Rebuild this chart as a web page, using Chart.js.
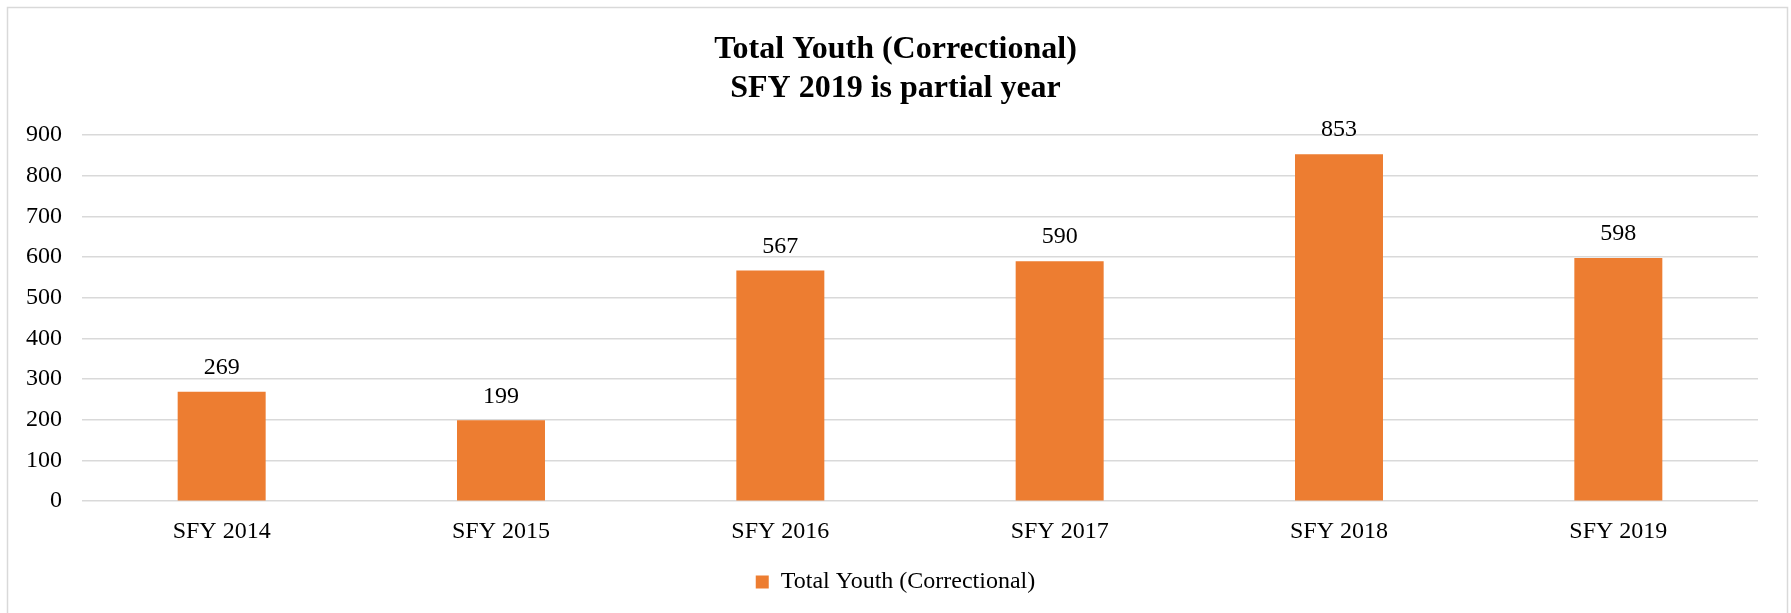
<!DOCTYPE html>
<html>
<head>
<meta charset="utf-8">
<script src="https://cdn.jsdelivr.net/npm/chart.js@4/dist/chart.umd.min.js"></script>
<style>
  html, body { margin: 0; padding: 0; background: #fff; }
  #wrap { width: 1791px; height: 613px; }
</style>
</head>
<body>
<div id="wrap"><canvas id="grafico" width="1791" height="613"></canvas></div>
<script>
// dados do gráfico
const categorias = ['SFY 2014', 'SFY 2015', 'SFY 2016', 'SFY 2017', 'SFY 2018', 'SFY 2019'];
const totalJovens = [269, 199, 567, 590, 853, 598];
const tituloLinhas = ['Total Youth (Correctional)', 'SFY 2019 is partial year'];
const nomeSerie = 'Total Youth (Correctional)';

const fonte = '"Liberation Serif", "Times New Roman", serif';

// moldura cinza em volta do gráfico
const moldura = {
  id: 'moldura',
  beforeDraw(chart) {
    const ctx = chart.ctx;
    ctx.save();
    ctx.fillStyle = '#fff';
    ctx.fillRect(0, 0, chart.width, chart.height);
    ctx.strokeStyle = '#d9d9d9';
    ctx.lineWidth = 1.5;
    ctx.strokeRect(7.5, 7.5, 1780, 640);
    ctx.restore();
  }
};

// rótulos de valor acima das barras
const rotulos = {
  id: 'rotulos',
  afterDatasetsDraw(chart) {
    const ctx = chart.ctx;
    const meta = chart.getDatasetMeta(0);
    ctx.save();
    ctx.font = '24px ' + fonte;
    ctx.fillStyle = '#000';
    ctx.textAlign = 'center';
    ctx.textBaseline = 'middle';
    meta.data.forEach((barra, i) => {
      ctx.fillText(String(totalJovens[i]), barra.x, barra.y - 24);
    });
    ctx.restore();
  }
};

new Chart(document.getElementById('grafico'), {
  type: 'bar',
  data: {
    labels: categorias,
    datasets: [{
      label: nomeSerie,
      data: totalJovens,
      backgroundColor: '#ED7D31',
      borderWidth: 0,
      barPercentage: 0.315,
      categoryPercentage: 1
    }]
  },
  options: {
    responsive: false,
    animation: false,
    layout: { padding: { top: 8, right: 0, bottom: 9, left: 0 } },
    plugins: {
      title: {
        display: true,
        text: tituloLinhas,
        color: '#000',
        font: { family: fonte, size: 32, weight: 'bold', lineHeight: 1.22 },
        padding: { top: 22, bottom: 27 }
      },
      legend: {
        display: true,
        position: 'bottom',
        labels: {
          color: '#000',
          font: { family: fonte, size: 24 },
          boxWidth: 13,
          boxHeight: 13,
          padding: 10
        }
      },
      tooltip: { enabled: false }
    },
    scales: {
      x: {
        grid: { display: false, drawTicks: false },
        border: { display: false },
        ticks: { color: '#000', font: { family: fonte, size: 24 }, padding: 16 },
        afterFit(scale) { scale.height = scale.height - 2; }
      },
      y: {
        min: 0,
        max: 900,
        grid: { color: '#d9d9d9', lineWidth: 1.5, drawTicks: false },
        border: { display: false },
        ticks: { stepSize: 100, color: '#000', font: { family: fonte, size: 24 }, padding: 20 },
        afterFit(scale) { scale.width = 82; }
      },
      // eixo vazio à direita, só para reservar a margem
      yDireita: {
        position: 'right',
        min: 0,
        max: 900,
        grid: { display: false, drawTicks: false },
        border: { display: false },
        ticks: { display: false },
        afterFit(scale) { scale.width = 33; }
      }
    }
  },
  plugins: [moldura, rotulos]
});
</script>
</body>
</html>
